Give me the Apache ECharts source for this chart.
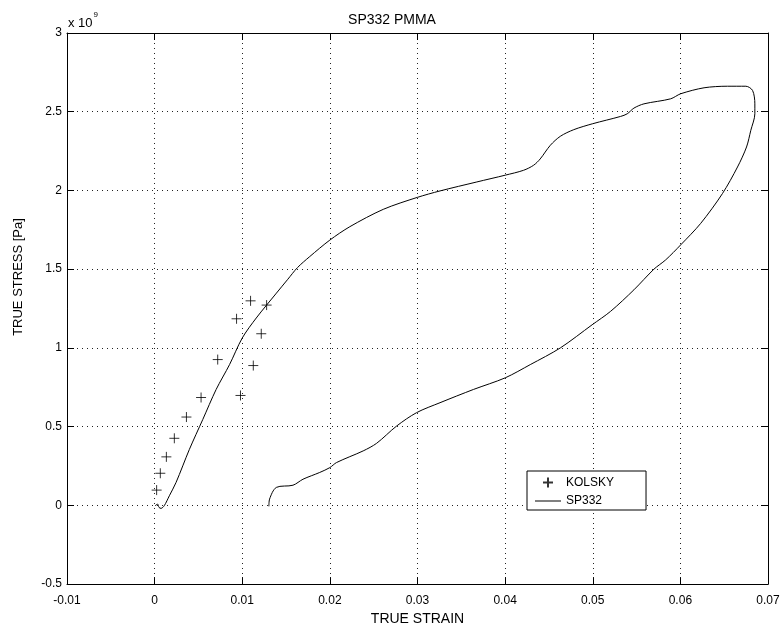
<!DOCTYPE html>
<html>
<head>
<meta charset="utf-8">
<script src="https://cdn.jsdelivr.net/npm/echarts@6/dist/echarts.min.js"></script>
<style>
html,body{margin:0;padding:0;background:#fff;}
#chart{width:784px;height:631px;}
</style>
</head>
<body>
<div id="chart"></div>
<script>
// Stress values are in units of 1e9 Pa (axis multiplier "x 10^9")
const kolskyStrain = [0.00023, 0.00065, 0.00134, 0.00225, 0.00363, 0.0053, 0.0072, 0.00935, 0.01095, 0.01278, 0.01217, 0.01126, 0.0098];
const kolskyStress = [0.097, 0.204, 0.308, 0.426, 0.561, 0.685, 0.926, 1.185, 1.299, 1.272, 1.090, 0.888, 0.698];

const sp332Strain = [0.00005, 0.00034, 0.0005, 0.00073, 0.0011, 0.00168, 0.00245, 0.00397, 0.0055, 0.00702, 0.00855, 0.0100, 0.0116, 0.0139, 0.0152, 0.0163, 0.0177, 0.0200, 0.02228, 0.02609, 0.02998, 0.03257, 0.03677, 0.04001, 0.0421, 0.04325, 0.0440, 0.04516, 0.0463, 0.04783, 0.0500, 0.05317, 0.05394, 0.0547, 0.05584, 0.05889, 0.06003, 0.0627, 0.06538, 0.06747, 0.06824, 0.0685, 0.0685, 0.06804, 0.06755, 0.06652, 0.0648, 0.06232, 0.06003, 0.05832, 0.05698, 0.0547, 0.05203, 0.04993, 0.0463, 0.04287, 0.04001, 0.03638, 0.03257, 0.0299, 0.02762, 0.02533, 0.0238, 0.02076, 0.0200, 0.01884, 0.01693, 0.01579, 0.01389, 0.01312, 0.01304];
const sp332Stress = [-0.003, 0.008, -0.013, -0.019, -0.002, 0.061, 0.146, 0.356, 0.546, 0.736, 0.894, 1.063, 1.19, 1.348, 1.436, 1.510, 1.580, 1.685, 1.77, 1.88, 1.956, 1.997, 2.054, 2.097, 2.128, 2.16, 2.20, 2.287, 2.344, 2.386, 2.424, 2.47, 2.487, 2.523, 2.55, 2.582, 2.614, 2.652, 2.662, 2.662, 2.635, 2.55, 2.487, 2.382, 2.276, 2.149, 1.98, 1.791, 1.654, 1.559, 1.5, 1.369, 1.232, 1.147, 1.0, 0.894, 0.81, 0.736, 0.652, 0.589, 0.504, 0.394, 0.346, 0.272, 0.24, 0.209, 0.166, 0.128, 0.114, 0.04, -0.006];

const xTicks = {min: -0.01, max: 0.07, interval: 0.01};
const yTicks = {min: -0.5, max: 3, interval: 0.5};

const kolskyData = kolskyStrain.map((x, i) => [x, kolskyStress[i]]);
const sp332Data = sp332Strain.map((x, i) => [x, sp332Stress[i]]);

const FONT = 'Liberation Sans, Arial, Helvetica, sans-serif';
const chart = echarts.init(document.getElementById('chart'), null, {renderer: 'canvas'});

const gridLine = {show: true, lineStyle: {color: '#222', width: 1, type: [1, 4]}};
const axLine = {show: true, onZero: false, lineStyle: {color: '#000', width: 1}};
const tick = {show: true, inside: true, length: 7, lineStyle: {color: '#000', width: 1}};

chart.setOption({
  animation: false,
  backgroundColor: '#fff',
  title: {
    text: 'SP332 PMMA', left: 'center', top: 8,
    textStyle: {fontFamily: FONT, fontSize: 14, fontWeight: 'normal', color: '#000'}
  },
  grid: {left: 67, right: 16, top: 33, bottom: 45, containLabel: false},
  xAxis: [{
    type: 'value', min: xTicks.min, max: xTicks.max, interval: xTicks.interval,
    name: 'TRUE STRAIN', nameLocation: 'middle', nameGap: 24,
    nameTextStyle: {fontFamily: FONT, fontSize: 14, color: '#000'},
    axisLine: axLine, axisTick: tick, splitLine: gridLine,
    axisLabel: {fontFamily: FONT, fontSize: 12, color: '#000', margin: 11,
      formatter: v => String(parseFloat(v.toFixed(2)))}
  }, {
    type: 'value', position: 'top', min: xTicks.min, max: xTicks.max, interval: xTicks.interval,
    axisLine: axLine, axisTick: tick, splitLine: {show: false}, axisLabel: {show: false}
  }],
  yAxis: [{
    type: 'value', min: yTicks.min, max: yTicks.max, interval: yTicks.interval,
    axisLine: axLine, axisTick: tick, splitLine: gridLine,
    axisLabel: {fontFamily: FONT, fontSize: 12, color: '#000', margin: 5,
      formatter: v => String(parseFloat(v.toFixed(1)))}
  }, {
    type: 'value', position: 'right', min: yTicks.min, max: yTicks.max, interval: yTicks.interval,
    axisLine: axLine, axisTick: tick, splitLine: {show: false}, axisLabel: {show: false}
  }],
  legend: {
    orient: 'vertical', left: 527, top: 471,
    padding: [4, 32, 3, 8], itemGap: 5, itemWidth: 26, itemHeight: 10,
    backgroundColor: '#fff', borderColor: '#000', borderWidth: 1, borderRadius: 0,
    textStyle: {fontFamily: FONT, fontSize: 12, color: '#000'},
    data: [
      {name: 'KOLSKY'},
      {name: 'SP332', icon: 'path://M0,0L26,0L26,1L0,1Z', itemStyle: {color: '#000', borderWidth: 0}}
    ]
  },
  graphic: [{
    type: 'text', left: 68, top: 11,
    style: {
      text: '{a|x 10}{b|9}',
      rich: {
        a: {fontFamily: FONT, fontSize: 13, fill: '#000', verticalAlign: 'bottom', padding: [6, 0, 0, 0]},
        b: {fontFamily: FONT, fontSize: 8, fill: '#000', verticalAlign: 'top', padding: [0, 0, 7, 1]}
      }
    }
  }, {
    type: 'text', x: 18, y: 277, rotation: Math.PI / 2,
    style: {
      text: 'TRUE STRESS [Pa]', fontFamily: FONT, fontSize: 13, fill: '#000',
      align: 'center', verticalAlign: 'middle'
    }
  }],
  series: [{
    name: 'KOLSKY', type: 'scatter', data: kolskyData,
    symbol: 'path://M0,5L10,5M5,0L5,10', symbolSize: 10, symbolKeepAspect: true,
    itemStyle: {color: 'none', borderColor: '#000', borderWidth: 1},
    z: 3
  }, {
    name: 'SP332', type: 'line', data: sp332Data, symbol: 'none', smooth: 0.3,
    lineStyle: {color: '#000', width: 1},
    itemStyle: {color: '#000'},
    z: 2
  }]
});
</script>
</body>
</html>
